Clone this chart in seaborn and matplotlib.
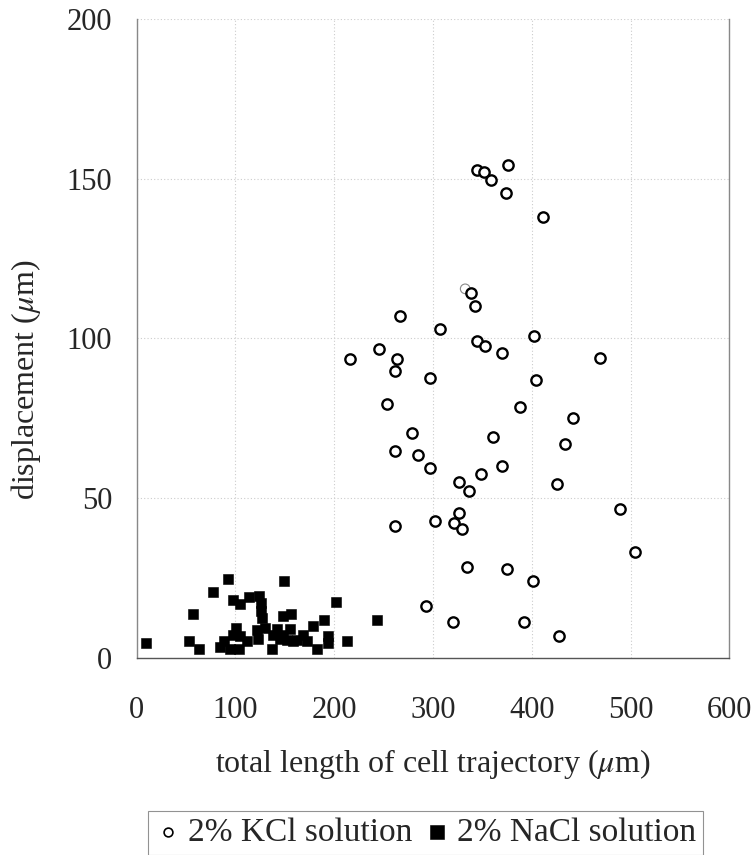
import matplotlib
matplotlib.use("Agg")
import matplotlib.pyplot as plt
import seaborn as sns

# 2% KCl solution (open circles)
kcl_x = [344.5, 351.2, 358.7, 376.2, 374.2, 411.7, 338.4, 342.5, 267.1, 306.6,
         401.8, 344.5, 352.2, 369.6, 245.5, 215.8, 263.4, 469.1, 261.4, 297.2,
         404.3, 253.3, 388.4, 441.8, 279.2, 360.3, 433.7, 261.4, 285.0, 370.1,
         296.9, 348.5, 326.5, 425.9, 336.4, 489.0, 326.5, 302.5, 320.8, 261.4,
         328.9, 504.6, 334.3, 375.2, 401.5, 292.8, 320.5, 391.7, 427.6]
kcl_y = [152.7, 152.0, 149.6, 154.1, 145.6, 138.1, 114.3, 110.1, 107.1, 102.8,
         100.8, 99.1, 97.7, 95.5, 96.6, 93.6, 93.6, 93.7, 89.9, 87.7,
         87.0, 79.5, 78.4, 75.2, 70.5, 69.2, 66.9, 64.9, 63.6, 60.0,
         59.4, 57.6, 55.2, 54.5, 52.1, 46.7, 45.4, 42.9, 42.3, 41.3,
         40.4, 33.2, 28.5, 27.8, 24.1, 16.2, 11.3, 11.3, 7.0]
# one faint grey circle in the KCl cloud
kcl_faint_x = [332.6]
kcl_faint_y = [115.5]

# 2% NaCl solution (filled squares)
nacl_x = [9.6, 53.2, 63.0, 57.3, 76.9, 92.7, 149.5, 97.8, 104.6, 114.0,
          124.2, 125.6, 125.6, 126.6, 100.5, 97.2, 88.7, 84.3, 94.5, 103.6,
          104.6, 121.5, 129.9, 136.7, 141.8, 147.9, 156.6, 155.3, 151.9, 162.1,
          168.7, 172.2, 178.3, 182.3, 190.0, 194.1, 194.1, 201.9, 213.3, 243.1,
          111.4, 123.0, 145.0, 158.6, 148.5, 138.3]
nacl_y = [4.6, 5.4, 2.8, 13.8, 20.5, 24.8, 24.1, 18.1, 16.9, 19.0,
          19.5, 17.2, 14.6, 12.5, 9.4, 7.3, 5.4, 3.4, 2.8, 2.8,
          7.0, 8.6, 9.4, 2.8, 8.9, 13.0, 13.8, 8.9, 5.7, 5.7,
          7.3, 5.2, 10.1, 2.8, 12.0, 6.8, 4.7, 17.4, 5.3, 11.9,
          5.2, 5.8, 5.8, 5.2, 7.3, 7.3]

x_ticks = [0, 100, 200, 300, 400, 500, 600]
y_ticks = [0, 50, 100, 150, 200]

sns.set_style("white")
plt.rcParams['font.family'] = ['Liberation Serif', 'DejaVu Serif']
plt.rcParams['mathtext.fontset'] = 'stix'

fig = plt.figure(figsize=(7.55, 8.55), dpi=100)
ax = fig.add_axes([0.181, 0.2305, 0.785, 0.7475])

sns.scatterplot(x=kcl_x, y=kcl_y, marker='o', s=55, facecolor='white',
                edgecolor='black', linewidth=1.7, ax=ax, label='2% KCl solution',
                zorder=3)
sns.scatterplot(x=kcl_faint_x, y=kcl_faint_y, marker='o', s=48, facecolor='none',
                edgecolor='#888888', linewidth=0.8, ax=ax, zorder=2)
sns.scatterplot(x=nacl_x, y=nacl_y, marker='s', s=62, color='black',
                edgecolor='black', linewidth=0.4, ax=ax, label='2% NaCl solution',
                zorder=3)

ax.set_xlim(0, 600)
ax.set_ylim(0, 200)
ax.set_xticks(x_ticks)
ax.set_yticks(y_ticks)
ax.tick_params(axis='both', labelsize=22, direction='out', length=4.5,
               width=0.8, color='#777777')
ax.tick_params(axis='x', pad=23)
ax.tick_params(axis='y', pad=13)
ax.grid(True, linestyle=(0, (1, 2)), color='#cccccc', linewidth=0.8)
ax.set_axisbelow(True)

for side in ['left', 'right', 'bottom']:
    ax.spines[side].set_visible(True)
    ax.spines[side].set_color('#888888')
    ax.spines[side].set_linewidth(1.0)
ax.spines['bottom'].set_color('#555555')
ax.spines['top'].set_visible(False)

ax.set_xlabel(r'total length of cell trajectory ($\mu$m)', fontsize=23, labelpad=16)
ax.set_ylabel(r'displacement ($\mu$m)', fontsize=23)
ax.yaxis.set_label_coords(-0.158, 0.435)

handles, labels = ax.get_legend_handles_labels()
leg = ax.legend(handles, labels, loc='upper left', bbox_to_anchor=(0.196, 0.0515),
                bbox_transform=fig.transFigure, ncol=2, fontsize=24, frameon=True,
                fancybox=False, edgecolor='#777777', handletextpad=0.2,
                columnspacing=0.35, handlelength=0.8, borderpad=0.2,
                borderaxespad=0)
leg.get_frame().set_linewidth(0.8)
hs = leg.legend_handles
hs[0].set_sizes([40])
hs[0].set_linewidth(1.2)
hs[1].set_sizes([110])

fig.savefig('out.png', dpi=100)
